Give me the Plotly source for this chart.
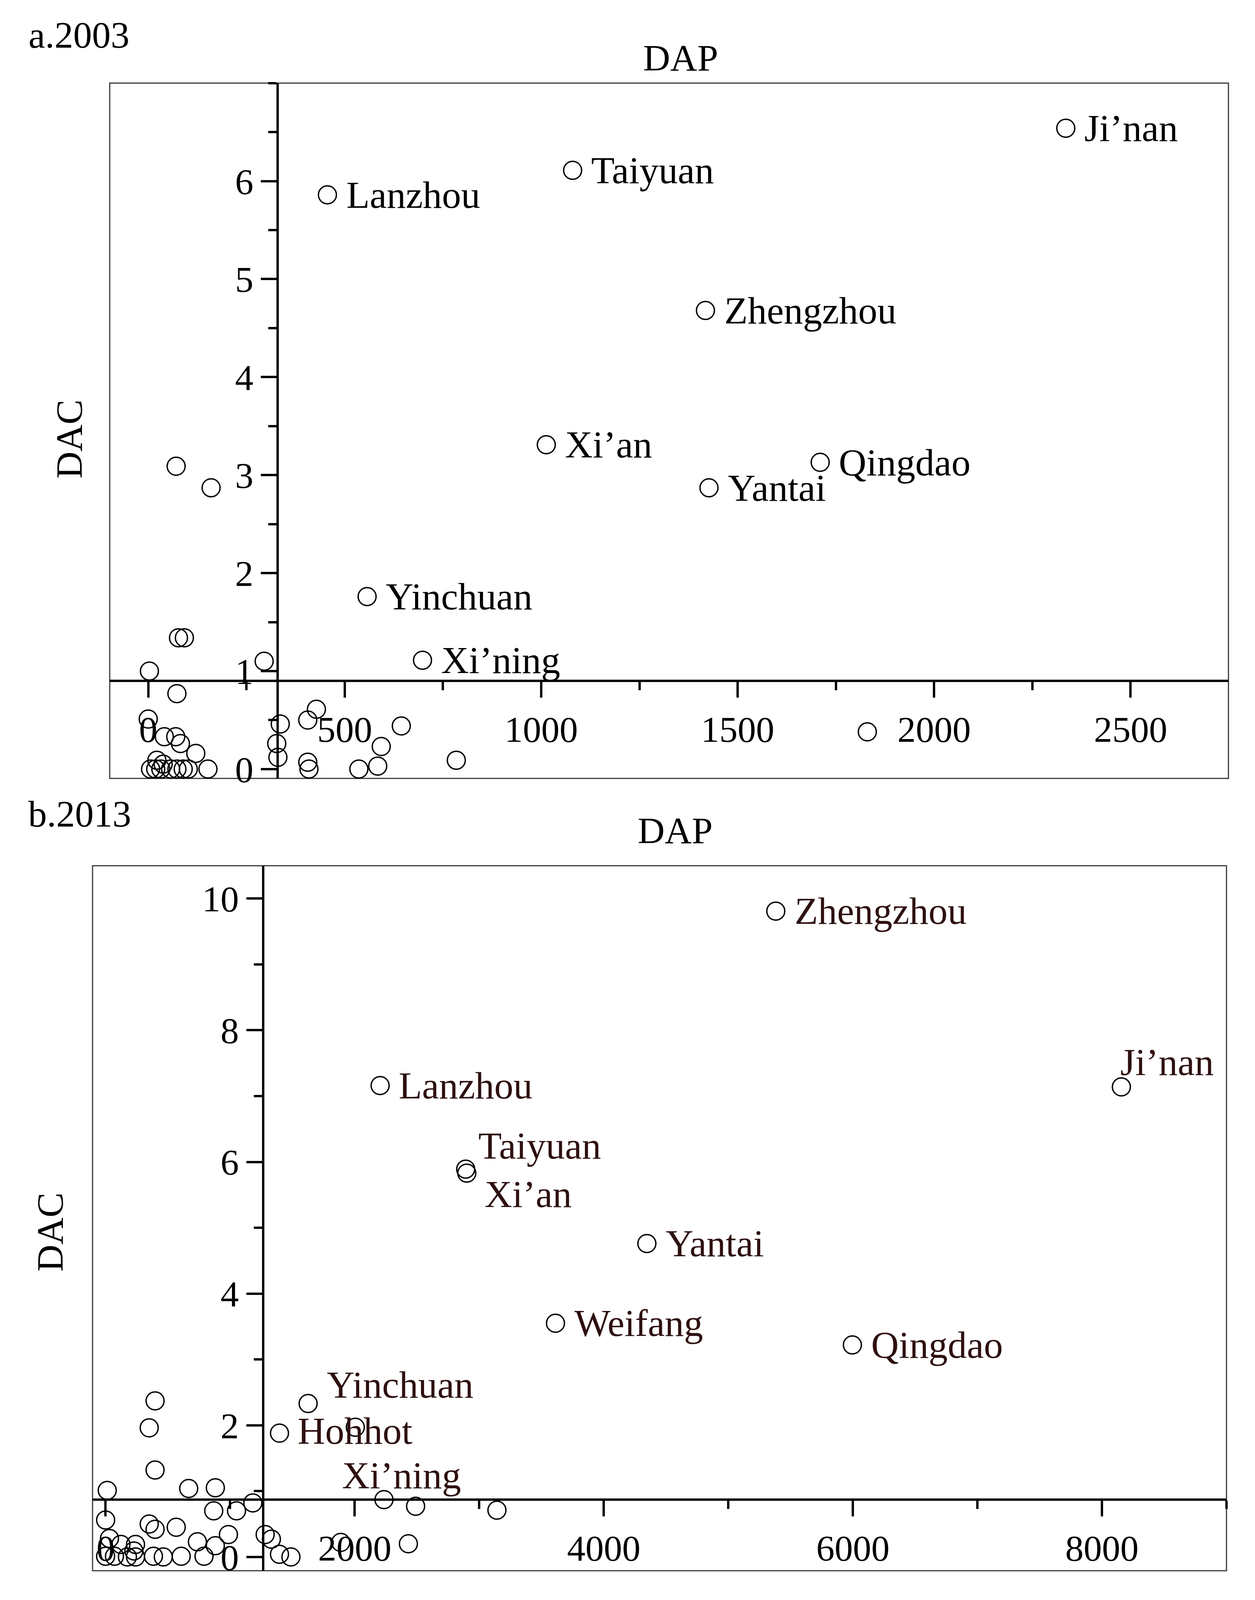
import plotly.graph_objects as go

# reference picture size, and the part of the page that actually gets photographed
REF_W, REF_H = 3214, 4876
VIEW_H = 4096
SQUASH = VIEW_H / REF_H          # whole chart is fitted into the visible height
BODY = 8                         # default page margin around the plot div
FIG_W, FIG_H = REF_W - 2 * BODY, VIEW_H - 2 * BODY
FONT = "Liberation Serif, Times New Roman, serif"

# ---------------- a.2003 ----------------
a_cities = ["Ji’nan", "Taiyuan", "Lanzhou", "Zhengzhou", "Xi’an",
            "Qingdao", "Yantai", "Yinchuan", "Xi’ning"]
a_city_dap = [2335, 1080, 456, 1418, 1013, 1710, 1427, 557, 698]
a_city_dac = [6.54, 6.11, 5.86, 4.68, 3.31, 3.13, 2.87, 1.76, 1.11]

a_other_dap = [71, 160, 77, 92, 3, 295, 73, 0, 41, 70, 82, 121, 22, 38,
               6, 19, 32, 57, 73, 89, 102, 152,
               336, 327, 330, 428, 406, 406, 409, 536, 584, 593, 644, 784, 1830]
a_other_dac = [3.09, 2.87, 1.34, 1.34, 1.00, 1.10, 0.77, 0.51, 0.33, 0.33, 0.26, 0.16, 0.09, 0.05,
               0.0, 0.0, 0.0, 0.0, 0.0, 0.0, 0.0, 0.0,
               0.46, 0.26, 0.12, 0.61, 0.50, 0.07, 0.0, 0.0, 0.03, 0.23, 0.44, 0.09, 0.38]

a_xticks = [0, 500, 1000, 1500, 2000, 2500]
a_yticks = [0, 1, 2, 3, 4, 5, 6]

# ---------------- b.2013 ----------------
b_cities = ["Zhengzhou", "Ji’nan", "Lanzhou", "Taiyuan", "Xi’an", "Yantai",
            "Weifang", "Qingdao", "Yinchuan", "Hohhot", "Xi’ning"]
b_city_dap = [5381, 8156, 2204, 2891, 2900, 4346, 3612, 5996, 1626, 1396, 2235]
b_city_dac = [9.81, 7.14, 7.16, 5.89, 5.83, 4.76, 3.55, 3.22, 2.33, 1.88, 0.87]

b_other_dap = [397, 350, 2005, 397, 13, 667, 881, 1182, 2489, 3142, 868, 1051,
               0, 350, 397, 567, 986, 1281, 1331, 1888, 2431, 1396, 1488,
               31, 123, 240, 227, 0, 71, 175, 240, 384, 463, 607, 737, 790, 881]
b_other_dac = [2.37, 1.96, 1.97, 1.32, 1.01, 1.04, 1.05, 0.82, 0.77, 0.71, 0.70, 0.70,
               0.56, 0.50, 0.42, 0.45, 0.34, 0.34, 0.27, 0.22, 0.20, 0.04, 0.0,
               0.28, 0.19, 0.19, 0.09, 0.01, 0.01, 0.0, 0.0, 0.01, 0.0, 0.01, 0.23, 0.01, 0.17]

b_xticks = [0, 2000, 4000, 6000, 8000]
b_yticks = [0, 2, 4, 6, 8, 10]

# label placement that differs from "just right of the circle"
# (anchor, x offset px, y offset px, + is downward)
B_LABEL_PLACE = {
    "Ji’nan": ("left", -5, -63),
    "Taiyuan": ("left", 30, -60),
    "Xi’an": ("left", 44, 54),
    "Yinchuan": ("left", 46, -48),
    "Hohhot": ("left", 44, -6),
    "Xi’ning": ("center", 45, -62),
}
LABEL_SIZE = 98


def px_x(p):
    # reference pixel column -> paper fraction
    return (p - BODY) / FIG_W


def px_y(p):
    # reference pixel row -> paper fraction (after fitting into the visible height)
    return 1 - (p * SQUASH - BODY) / FIG_H


def add_points(fig, n, dap, dac, o_dap, o_dac):
    xa = "x" if n == 1 else f"x{n}"
    ya = "y" if n == 1 else f"y{n}"
    marker = dict(symbol="circle-open", size=46, color="black", line=dict(width=3.5))
    for xs, ys in ((o_dap, o_dac), (dap, dac)):
        fig.add_trace(go.Scatter(
            x=xs, y=ys, mode="markers", marker=marker,
            xaxis=xa, yaxis=ya, showlegend=False, cliponaxis=False,
            hoverinfo="skip",
        ))


def city_labels(n, dap, dac, names, color, place):
    xa = "x" if n == 1 else f"x{n}"
    ya = "y" if n == 1 else f"y{n}"
    out = []
    for x, y, name in zip(dap, dac, names):
        anchor, dx, dy = place.get(name, ("left", 46, 0))
        out.append(dict(
            text=name, x=x, y=y, xref=xa, yref=ya, showarrow=False,
            xanchor=anchor, yanchor="middle", xshift=dx, yshift=-dy,
            font=dict(family=FONT, size=LABEL_SIZE, color=color),
        ))
    return out


def axes(xdom, ydom, xr, yr, xcross, ycross, xticks, yticks, xminor, yminor):
    # axes cross inside the box, so both are free and placed by paper position
    xpos = ydom[0] + (ycross - yr[0]) / (yr[1] - yr[0]) * (ydom[1] - ydom[0])
    ypos = xdom[0] + (xcross - xr[0]) / (xr[1] - xr[0]) * (xdom[1] - xdom[0])
    tickfont = dict(family=FONT, size=94, color="black")
    common = dict(showgrid=False, zeroline=False, showline=True, linewidth=6,
                  linecolor="black", ticks="outside", ticklen=40, tickwidth=6,
                  tickcolor="black", tickfont=tickfont, anchor="free")
    xaxis = dict(common, domain=xdom, range=xr, position=xpos,
                 tickvals=xticks, ticktext=[str(v) for v in xticks],
                 minor=dict(dtick=xminor, tick0=0, ticks="outside", ticklen=21,
                            tickwidth=6, tickcolor="black"))
    yaxis = dict(common, domain=ydom, range=yr, position=ypos,
                 tickvals=yticks, ticktext=[str(v) for v in yticks],
                 minor=dict(dtick=yminor, tick0=0, ticks="outside", ticklen=21,
                            tickwidth=6, tickcolor="black"))
    return xaxis, yaxis


fig = go.Figure()
add_points(fig, 1, a_city_dap, a_city_dac, a_other_dap, a_other_dac)
add_points(fig, 2, b_city_dap, b_city_dac, b_other_dap, b_other_dac)

a_xdom = [px_x(281), px_x(3146)]
a_ydom = [px_y(2389), px_y(255)]
b_xdom = [px_x(237), px_x(3141)]
b_ydom = [px_y(4821), px_y(2657)]

ax1, ay1 = axes(a_xdom, a_ydom, [-98, 2749], [-0.095, 7.0], 329, 0.90,
                a_xticks, a_yticks, 250, 0.5)
ax2, ay2 = axes(b_xdom, b_ydom, [-105, 9000], [-0.21, 10.5], 1264, 0.87,
                b_xticks, b_yticks, 1000, 1)

frame = dict(type="rect", x0=0, x1=1, y0=0, y1=1,
             line=dict(color="#3a3a3a", width=3), layer="below")
shapes = [dict(frame, xref="x domain", yref="y domain"),
          dict(frame, xref="x2 domain", yref="y2 domain")]

txt = dict(family=FONT, size=96, color="black")
titles = [
    dict(text="a.2003", x=px_x(71), y=px_y(107), xanchor="left", yanchor="middle"),
    dict(text="DAP", x=px_x(1743), y=px_y(178), xanchor="center", yanchor="middle"),
    dict(text="DAC", x=px_x(177), y=px_y(1348), xanchor="center", yanchor="middle",
         textangle=-90),
    dict(text="b.2013", x=px_x(70), y=px_y(2498), xanchor="left", yanchor="middle"),
    dict(text="DAP", x=px_x(1729), y=px_y(2550), xanchor="center", yanchor="middle"),
    dict(text="DAC", x=px_x(128), y=px_y(3782), xanchor="center", yanchor="middle",
         textangle=-90),
]
for t in titles:
    t.update(xref="paper", yref="paper", showarrow=False, font=txt)

annotations = (titles
               + city_labels(1, a_city_dap, a_city_dac, a_cities, "black", {})
               + city_labels(2, b_city_dap, b_city_dac, b_cities, "#2e1010", B_LABEL_PLACE))

fig.update_layout(
    width=FIG_W, height=FIG_H, autosize=False,
    margin=dict(l=0, r=0, t=0, b=0),
    paper_bgcolor="white", plot_bgcolor="rgba(0,0,0,0)",
    xaxis=ax1, yaxis=ay1, xaxis2=ax2, yaxis2=ay2,
    shapes=shapes, annotations=annotations,
    font=dict(family=FONT, color="black"),
)

fig.write_html("out.html")
